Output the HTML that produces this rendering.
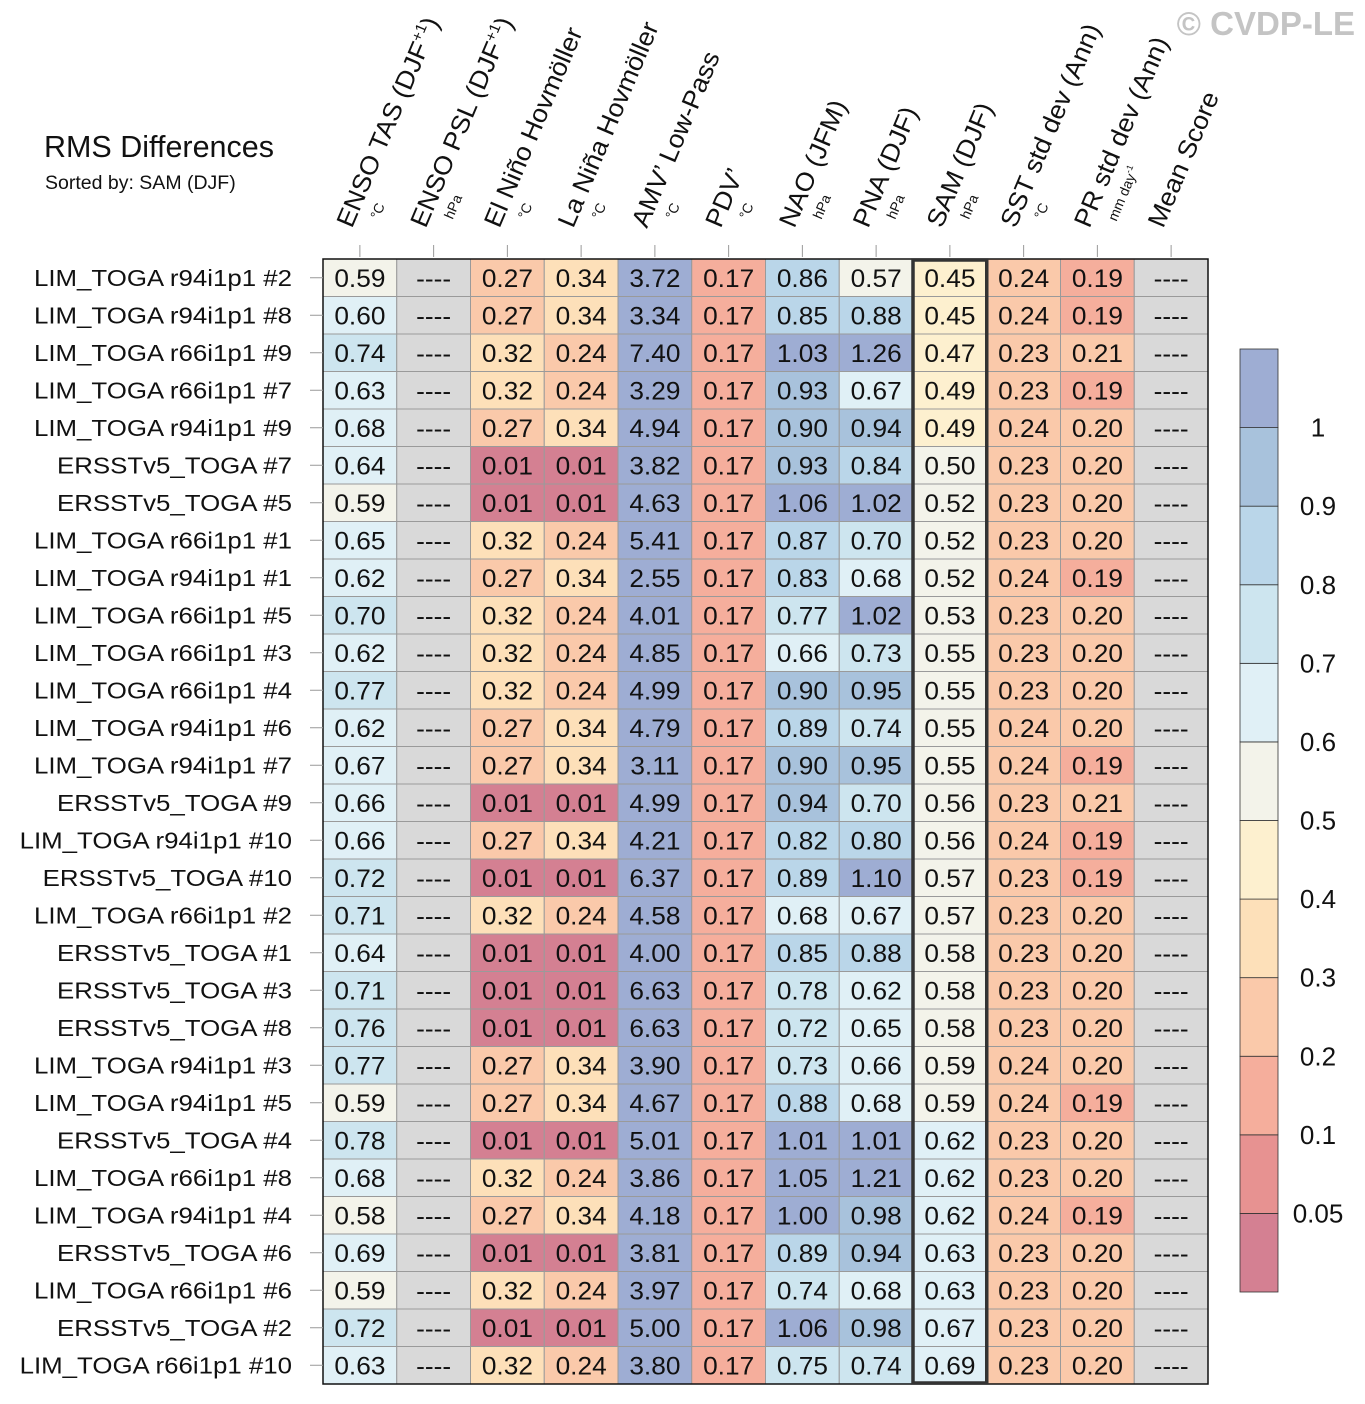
<!DOCTYPE html>
<html><head><meta charset="utf-8"><style>
body{margin:0;background:#fff;}
svg{display:block;font-family:"Liberation Sans",sans-serif;}
</style></head><body>
<svg id="chart" width="1365" height="1404" viewBox="0 0 1365 1404" xmlns="http://www.w3.org/2000/svg">
<text x="44" y="157" font-size="30.5" fill="#111">RMS Differences</text>
<text x="45" y="189" font-size="19.5" fill="#111">Sorted by: SAM (DJF)</text>
<text x="1355" y="35" font-size="33" font-weight="bold" fill="#c4c4c4" text-anchor="end">© CVDP-LE</text>
<g id="headers"></g>
<g id="cells"></g>
<g id="rowlabels"></g>
<g id="colorbar"></g>
</svg>
<script>
const rowLabels = ["LIM_TOGA r94i1p1 #2","LIM_TOGA r94i1p1 #8","LIM_TOGA r66i1p1 #9","LIM_TOGA r66i1p1 #7","LIM_TOGA r94i1p1 #9","ERSSTv5_TOGA #7","ERSSTv5_TOGA #5","LIM_TOGA r66i1p1 #1","LIM_TOGA r94i1p1 #1","LIM_TOGA r66i1p1 #5","LIM_TOGA r66i1p1 #3","LIM_TOGA r66i1p1 #4","LIM_TOGA r94i1p1 #6","LIM_TOGA r94i1p1 #7","ERSSTv5_TOGA #9","LIM_TOGA r94i1p1 #10","ERSSTv5_TOGA #10","LIM_TOGA r66i1p1 #2","ERSSTv5_TOGA #1","ERSSTv5_TOGA #3","ERSSTv5_TOGA #8","LIM_TOGA r94i1p1 #3","LIM_TOGA r94i1p1 #5","ERSSTv5_TOGA #4","LIM_TOGA r66i1p1 #8","LIM_TOGA r94i1p1 #4","ERSSTv5_TOGA #6","LIM_TOGA r66i1p1 #6","ERSSTv5_TOGA #2","LIM_TOGA r66i1p1 #10"];
const colNames = ["ENSO TAS (DJF","ENSO PSL (DJF","El Niño Hovmöller","La Niña Hovmöller","AMV’ Low-Pass","PDV’","NAO (JFM)","PNA (DJF)","SAM (DJF)","SST std dev (Ann)","PR std dev (Ann)","Mean Score"];
const colUnits = ["°C","hPa","°C","°C","°C","°C","hPa","hPa","hPa","°C","mm day","" ];
const ensoTas = [.59,.60,.74,.63,.68,.64,.59,.65,.62,.70,.62,.77,.62,.67,.66,.66,.72,.71,.64,.71,.76,.77,.59,.78,.68,.58,.69,.59,.72,.63];
const ensoPsl = new Array(30).fill(null);
const elNino = [.27,.27,.32,.32,.27,.01,.01,.32,.27,.32,.32,.32,.27,.27,.01,.27,.01,.32,.01,.01,.01,.27,.27,.01,.32,.27,.01,.32,.01,.32];
const laNina = [.34,.34,.24,.24,.34,.01,.01,.24,.34,.24,.24,.24,.34,.34,.01,.34,.01,.24,.01,.01,.01,.34,.34,.01,.24,.34,.01,.24,.01,.24];
const amv = [3.72,3.34,7.40,3.29,4.94,3.82,4.63,5.41,2.55,4.01,4.85,4.99,4.79,3.11,4.99,4.21,6.37,4.58,4.00,6.63,6.63,3.90,4.67,5.01,3.86,4.18,3.81,3.97,5.00,3.80];
const pdv = new Array(30).fill(.17);
const nao = [.86,.85,1.03,.93,.90,.93,1.06,.87,.83,.77,.66,.90,.89,.90,.94,.82,.89,.68,.85,.78,.72,.73,.88,1.01,1.05,1.00,.89,.74,1.06,.75];
const pna = [.57,.88,1.26,.67,.94,.84,1.02,.70,.68,1.02,.73,.95,.74,.95,.70,.80,1.10,.67,.88,.62,.65,.66,.68,1.01,1.21,.98,.94,.68,.98,.74];
const sam = [.45,.45,.47,.49,.49,.50,.52,.52,.52,.53,.55,.55,.55,.55,.56,.56,.57,.57,.58,.58,.58,.59,.59,.62,.62,.62,.63,.63,.67,.69];
const sst = [.24,.24,.23,.23,.24,.23,.23,.23,.24,.23,.23,.23,.24,.24,.23,.24,.23,.23,.23,.23,.23,.24,.24,.23,.23,.24,.23,.23,.23,.23];
const pr = [.19,.19,.21,.19,.20,.20,.20,.20,.19,.20,.20,.20,.20,.19,.21,.19,.19,.20,.20,.20,.20,.20,.19,.20,.20,.19,.20,.20,.20,.20];
const meanScore = new Array(30).fill(null);
const series = [ensoTas,ensoPsl,elNino,laNina,amv,pdv,nao,pna,sam,sst,pr,meanScore];
const levels = [0.05,0.1,0.2,0.3,0.4,0.5,0.6,0.7,0.8,0.9,1];
const levelLabels = ["0.05","0.1","0.2","0.3","0.4","0.5","0.6","0.7","0.8","0.9","1"];
const palette = ["#d48092","#e79291","#f5ae9c","#fac9aa","#fde0b9","#fdf0cf","#f3f3ea","#e0f0f6","#cde5ef","#bad6e9","#a8c2dc","#9eadd3"];

const NS="http://www.w3.org/2000/svg";
const X0=323,X1=1208,Y0=259,Y1=1384;
const cw=(X1-X0)/series.length, rh=(Y1-Y0)/rowLabels.length;
const xc=c=>X0+cw*(c+0.5), yc=r=>Y0+rh*(r+0.5);
function mk(tag,parent,attrs){const e=document.createElementNS(NS,tag);for(const k in attrs)e.setAttribute(k,attrs[k]);parent.appendChild(e);return e;}
function color(v){if(v===null)return "#d9d9d9";let i=0;while(i<levels.length&&v>=levels[i])i++;return palette[i];}

const cells=document.getElementById('cells');
series.forEach((s,c)=>{
  s.forEach((v,r)=>{
    const rect=mk('rect',cells,{x:X0+cw*c,y:Y0+rh*r,width:cw,height:rh,fill:color(v),stroke:"#9a9a9a","stroke-width":1});
    
    
    const t=mk('text',cells,{x:0,y:0,"font-size":25,"text-anchor":"middle",fill:"#111",transform:`translate(${xc(c)},${yc(r)+9}) scale(1.05,1)`});
    t.textContent=v===null?"----":v.toFixed(2);
    
    
  });
});
const border=mk('rect',cells,{x:X0,y:Y0,width:X1-X0,height:Y1-Y0,fill:"none",stroke:"#111","stroke-width":1.5});


const hl=mk('rect',cells,{x:X0+cw*8,y:Y0+1,width:cw,height:Y1-Y0-2,fill:"none",stroke:"#333","stroke-width":3.5});



const rl=document.getElementById('rowlabels');
rowLabels.forEach((l,r)=>{
  const t=mk('text',rl,{x:0,y:0,"font-size":23.5,"text-anchor":"end",fill:"#111",transform:`translate(292,${yc(r)+8}) scale(1.1,1)`});
  t.textContent=l;
  
  
  const tk=mk('line',rl,{x1:310,x2:X0,y1:yc(r),y2:yc(r),stroke:"#999","stroke-width":1});
  
  
});

const hd=document.getElementById('headers');
colNames.forEach((n,c)=>{
  const x=xc(c);
  const tk=mk('line',hd,{x1:x,x2:x,y1:245,y2:257,stroke:"#999","stroke-width":1});
  
  
  const t=mk('text',hd,{x:0,y:0,"font-size":25.5,fill:"#111",transform:`translate(${x-8},229) rotate(-67) scale(1.05,1)`});
  t.textContent=n;
  if(c<2){const s=mk('tspan',t,{"font-size":15,dy:-10});s.textContent="+1";const e=mk('tspan',t,{"font-size":25.5,dy:10});e.textContent=")";}
  
  
  if(colUnits[c]){
    const u=mk('text',hd,{x:0,y:0,"font-size":14,fill:"#111",transform:`translate(${x+19},${c===10?222:220}) rotate(-67)`});
    u.textContent=colUnits[c];
    if(c===10){const s=mk('tspan',u,{"font-size":9,dy:-6});s.textContent="-1";}
    
    
  }
});

const cb=document.getElementById('colorbar');
const CB0=349,CB1=1292,bh=(CB1-CB0)/palette.length;
for(let i=0;i<palette.length;i++){
  const r=mk('rect',cb,{x:1240,y:CB1-bh*(i+1),width:38,height:bh,fill:palette[i],stroke:"#333","stroke-width":0.8});
  
  
}
levelLabels.forEach((l,i)=>{
  const t=mk('text',cb,{x:1318,y:CB1-bh*(i+1)+9,"font-size":26,"text-anchor":"middle",fill:"#111"});
  t.textContent=l;
  
  
});
</script>
</body></html>
